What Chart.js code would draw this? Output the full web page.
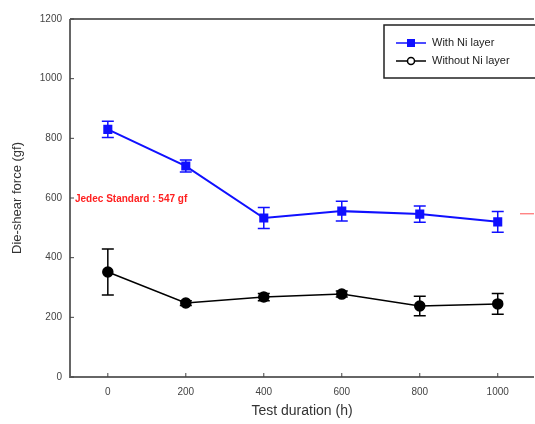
<!DOCTYPE html>
<html>
<head>
<meta charset="utf-8">
<script src="https://cdn.jsdelivr.net/npm/chart.js@4"></script>
<style>
  html, body { margin: 0; padding: 0; background: #fff; overflow: hidden; }
  #wrap { width: 535px; height: 424px; position: relative; }
</style>
</head>
<body>
<div id="wrap"><canvas id="chart" width="535" height="424"></canvas></div>
<script>
// test hours and die-shear force (gf)
const hours = [0, 200, 400, 600, 800, 1000];
const withNi = [830, 707, 533, 556, 546, 520];
const withNiErr = [27, 20, 35, 33, 27, 35];
const withoutNi = [352, 248, 268, 278, 238, 245];
const withoutNiErr = [77, 8, 12, 10, 33, 35];
const yTicks = [0, 200, 400, 600, 800, 1000, 1200];
const jedecValue = 547;
const jedecLabel = "Jedec Standard : 547 gf";

const axisColor = "#666";

// error bars + inward ticks + jedec line + legend box
const extras = {
    id: "extras",
    afterDatasetsDraw(chart) {
        const ctx = chart.ctx;
        const x = chart.scales.x, y = chart.scales.y;
        const errs = [withNiErr, withoutNiErr];
        chart.data.datasets.forEach(function(ds, i) {
            ctx.save();
            ctx.strokeStyle = ds.borderColor;
            ctx.lineWidth = 1.5;
            ds.data.forEach(function(p, j) {
                const px = x.getPixelForValue(p.x);
                const top = y.getPixelForValue(p.y + errs[i][j]);
                const bot = y.getPixelForValue(p.y - errs[i][j]);
                ctx.beginPath();
                ctx.moveTo(px, top); ctx.lineTo(px, bot);
                ctx.moveTo(px - 6, top); ctx.lineTo(px + 6, top);
                ctx.moveTo(px - 6, bot); ctx.lineTo(px + 6, bot);
                ctx.stroke();
            });
            ctx.restore();
        });
    },
    afterDraw(chart) {
        const ctx = chart.ctx;
        const x = chart.scales.x, y = chart.scales.y;
        const a = chart.chartArea;
        ctx.save();
        // axes frame: left, bottom, top
        ctx.strokeStyle = axisColor;
        ctx.lineWidth = 2;
        ctx.beginPath();
        ctx.moveTo(a.left, a.top); ctx.lineTo(a.left, a.bottom);
        ctx.lineTo(a.right, a.bottom);
        ctx.moveTo(a.left, a.top); ctx.lineTo(a.right, a.top);
        ctx.stroke();
        // small inward ticks
        ctx.lineWidth = 1;
        ctx.strokeStyle = "#444";
        ctx.beginPath();
        hours.forEach(function(h) {
            const px = x.getPixelForValue(h);
            ctx.moveTo(px, a.bottom); ctx.lineTo(px, a.bottom - 4);
        });
        yTicks.forEach(function(v) {
            const py = y.getPixelForValue(v);
            ctx.moveTo(a.left, py); ctx.lineTo(a.left + 4, py);
        });
        ctx.stroke();
        // jedec standard
        const jy = y.getPixelForValue(jedecValue);
        ctx.strokeStyle = "#ff5050";
        ctx.lineWidth = 1;
        ctx.beginPath();
        ctx.moveTo(a.right - 14, jy); ctx.lineTo(a.right, jy);
        ctx.stroke();
        ctx.fillStyle = "#ff2020";
        ctx.font = "bold 10px 'Liberation Sans', Arial, sans-serif";
        ctx.textBaseline = "middle";
        ctx.fillText(jedecLabel, a.left + 5, jy - 15);
        // legend
        const lx = 384, ly = 25, lw = 160, lh = 53;
        ctx.fillStyle = "#fff";
        ctx.fillRect(lx, ly, lw, lh);
        ctx.strokeStyle = "#222";
        ctx.lineWidth = 1.5;
        ctx.strokeRect(lx, ly, lw, lh);
        ctx.font = "11px 'Liberation Sans', Arial, sans-serif";
        const rows = [
            { label: chart.data.datasets[0].label, color: "#1010ff", y: ly + 18, marker: "rect" },
            { label: chart.data.datasets[1].label, color: "#000", y: ly + 36, marker: "circle" }
        ];
        rows.forEach(function(r) {
            ctx.strokeStyle = r.color;
            ctx.lineWidth = 1.5;
            ctx.beginPath();
            ctx.moveTo(lx + 12, r.y); ctx.lineTo(lx + 42, r.y);
            ctx.stroke();
            if (r.marker === "rect") {
                ctx.fillStyle = r.color;
                ctx.fillRect(lx + 23, r.y - 4, 8, 8);
            } else {
                ctx.fillStyle = "#fff";
                ctx.beginPath();
                ctx.arc(lx + 27, r.y, 3.5, 0, Math.PI * 2);
                ctx.fill();
                ctx.stroke();
            }
            ctx.fillStyle = "#222";
            ctx.fillText(r.label, lx + 48, r.y);
        });
        ctx.restore();
    }
};

function pts(vals) {
    return hours.map(function(h, i) { return { x: h, y: vals[i] }; });
}

new Chart(document.getElementById("chart"), {
    type: "line",
    data: {
        datasets: [
            { label: "With Ni layer", data: pts(withNi), borderColor: "#1010ff", backgroundColor: "#1010ff",
              borderWidth: 2, pointStyle: "rect", pointRadius: 5, tension: 0 },
            { label: "Without Ni layer", data: pts(withoutNi), borderColor: "#000", backgroundColor: "#000",
              borderWidth: 1.5, pointStyle: "circle", pointRadius: 5, tension: 0 }
        ]
    },
    options: {
        responsive: false,
        animation: false,
        layout: { autoPadding: false, padding: { top: 19, right: 1, left: 6, bottom: 0 } },
        plugins: { legend: { display: false }, tooltip: { enabled: false } },
        scales: {
            x: {
                type: "linear", min: -97, max: 1093,
                afterBuildTicks: function(s) { s.ticks = hours.map(function(v) { return { value: v }; }); },
                afterFit: function(s) { s.height = 47; s.paddingLeft = 0; s.paddingRight = 0; },
                grid: { display: false, drawTicks: false },
                border: { display: false },
                ticks: { color: "#444", font: { size: 10, family: "'Liberation Sans', Arial" }, padding: 9, maxRotation: 0,
                         callback: function(v) { return String(v); } },
                title: { display: true, text: "Test duration (h)", color: "#333",
                         font: { size: 14, family: "'Liberation Sans', Arial" }, padding: { top: 1 } }
            },
            y: {
                min: 0, max: 1200,
                afterBuildTicks: function(s) { s.ticks = yTicks.map(function(v) { return { value: v }; }); },
                afterFit: function(s) { s.width = 64; s.paddingTop = 0; s.paddingBottom = 0; },
                grid: { display: false, drawTicks: false },
                border: { display: false },
                ticks: { color: "#444", font: { size: 10, family: "'Liberation Sans', Arial" }, padding: 8,
                         callback: function(v) { return String(v); } },
                title: { display: true, text: "Die-shear force (gf)", color: "#333",
                         font: { size: 13, family: "'Liberation Sans', Arial" }, padding: { bottom: 4 } }
            }
        }
    },
    plugins: [extras]
});
</script>
</body>
</html>
